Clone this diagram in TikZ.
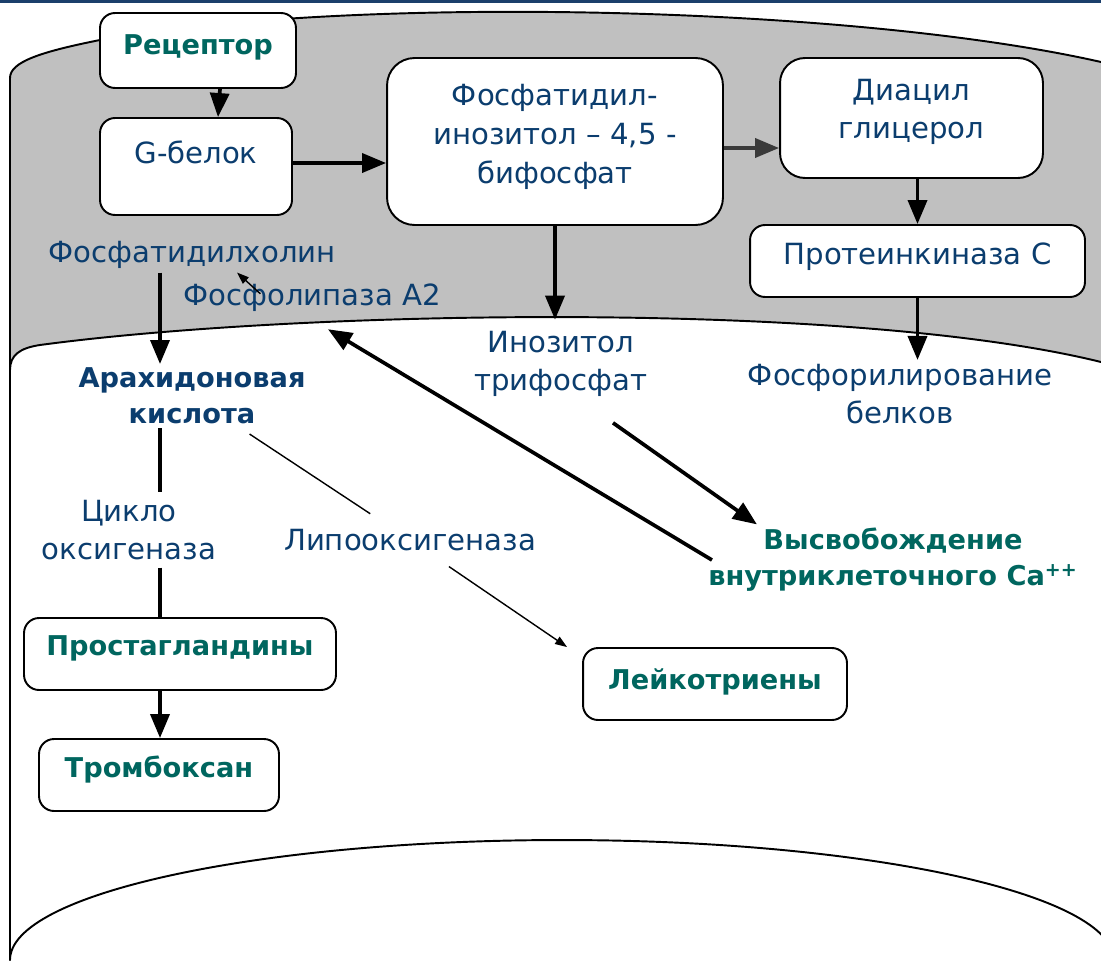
\documentclass[tikz,border=0pt]{standalone}
\usepackage{fontspec}
\setmainfont{DejaVu Sans}
\usepackage{xcolor}
\usetikzlibrary{arrows.meta,positioning}
\definecolor{Navy}{HTML}{0B3D6E}
\definecolor{Teal}{HTML}{00665F}
\definecolor{Plasma}{HTML}{C0C0C0}
\definecolor{TopBar}{HTML}{1B3F6B}
\definecolor{Pointer}{HTML}{3A3A3A}

\begin{document}
\begin{tikzpicture}[x=0.02cm,y=-0.02cm,>=Latex]
  \tikzset{
    cellbox/.style={
      draw,
      line width=1.1pt,
      fill=white,
      rounded corners=0.3cm,
      inner sep=0pt
    },
    membrane/.style={line width=1.1pt, line cap=round},
    flow/.style={-{Triangle[length=0.48cm,width=0.38cm]}, line width=2.1pt},
    flowgray/.style={flow, Pointer},
    flowthin/.style={-{Triangle[length=0.24cm,width=0.17cm]}, line width=0.8pt},
    link/.style={line width=0.8pt},
    term/.style={font=\fontsize{16.6}{22}\selectfont, text=Navy, align=center, inner sep=2pt},
    product/.style={font=\bfseries\fontsize{15.5}{20.5}\selectfont, text=Teal, align=center, inner sep=2pt},
    keyacid/.style={product, text=Navy}
  }
  \useasboundingbox (0,0) rectangle (1101,960);

  % cell: plasma band and membranes
  \fill[TopBar] (0,0) rectangle (1101,3);
  \fill[Plasma] (10,78) .. controls (10,62) and (40,52) .. (100,40)
    .. controls (350,-5) and (850,5) .. (1101,62) -- (1101,362)
    .. controls (850,300) and (300,310) .. (40,345)
    .. controls (20,348) and (10,355) .. (10,370) -- cycle;
  \draw[membrane] (10,960) -- (10,78) .. controls (10,62) and (40,52) .. (100,40)
    .. controls (350,-5) and (850,5) .. (1101,62);
  \draw[membrane] (10,370) .. controls (10,355) and (20,348) .. (40,345)
    .. controls (300,310) and (850,300) .. (1101,362);
  \draw[membrane] (10,960) arc[start angle=180, end angle=0, x radius=11.04cm, y radius=2.4cm];

  % boxes
  \node[cellbox, minimum width=3.92cm, minimum height=1.5cm]  (rec)   at (198,50.5) {};
  \node[cellbox, minimum width=3.84cm, minimum height=1.94cm] (gprot) at (196,166.5) {};
  \node[cellbox, rounded corners=0.55cm, minimum width=6.72cm, minimum height=3.34cm] (pip) at (555,141.5) {};
  \node[cellbox, rounded corners=0.5cm, minimum width=5.26cm, minimum height=2.4cm] (dag) at (911.5,118) {};
  \node[cellbox, minimum width=6.7cm, minimum height=1.44cm]  (pkc)   at (917.5,261) {};
  \node[cellbox, minimum width=6.24cm, minimum height=1.44cm] (pg)    at (180,654) {};
  \node[cellbox, minimum width=4.8cm, minimum height=1.44cm]  (tx)    at (159,775) {};
  \node[cellbox, minimum width=5.28cm, minimum height=1.44cm] (lt)    at (715,684) {};

  \node[product] at (rec.center) [yshift=0.07cm] {Рецептор};
  \node[term] at (gprot.center) [yshift=0.29cm] {G-белок};
  \node[term] at (pip.center) [yshift=0.09cm] {Фосфатидил-\\инозитол – 4,5 -\\бифосфат};
  \node[term] at (dag.center) [yshift=0.12cm] {Диацил\\глицерол};
  \node[term] at (pkc.center) [yshift=0.08cm] {Протеинкиназа С};
  \node[product] at (pg.center) [yshift=0.12cm] {Простагландины};
  \node[product] at (tx.center) [yshift=0.1cm] {Тромбоксан};
  \node[product] at (lt.center) [yshift=0.04cm] {Лейкотриены};

  % free labels
  \node[term] (pc)   at (192,255) {Фосфатидилхолин};
  \node[term] (pla2) at (312,298) {Фосфолипаза А2};
  \node[keyacid] (aa) at (192,396) {Арахидоновая\\кислота};
  \node[term, inner sep=4pt] (cox) at (129,530) {Цикло\\оксигеназа};
  \node[term] (lox)  at (410,540) {Липооксигеназа};
  \node[term] (ip3)  at (561,364) {Инозитол\\трифосфат};
  \node[term] (pp)   at (900,394) {Фосфорилирование\\белков};
  \node[product] (ca) at (893,560) {Высвобождение\\внутриклеточного Ca\textsuperscript{++}};
  \coordinate (stem) at (160,0);

  % connectors
  \draw[flow] ([xshift=0.44cm]rec.south) -- ([xshift=0.44cm]gprot.north);
  \draw[flow] ([yshift=0.07cm]gprot.east) -- ([yshift=0.07cm]gprot.east -| pip.west);
  \draw[flowgray] ([yshift=-0.13cm]pip.east) -- ([yshift=-0.13cm]pip.east -| dag.west);
  \draw[flow] (dag.south -| pkc.north) -- (pkc.north);
  \draw[flow] (pkc.south) -- (pkc.south |- pp.north);
  \draw[flow] (pip.south) -- ([yshift=0.15cm]pip.south |- ip3.north);
  \draw[flowthin] ([xshift=1.62cm,yshift=-0.27cm]pla2.north west) -- ([xshift=0.9cm]pc.south);
  \draw[flow] (pc.south -| stem) -- (aa.north -| stem);
  \draw[link, line width=2.1pt] (aa.south -| stem) -- (cox.north -| stem);
  \draw[link, line width=2.1pt] (cox.south -| stem) -- (pg.north -| stem);
  \draw[flow] (pg.south -| stem) -- (tx.north -| stem);
  \draw[link, shorten <=0.22cm, shorten >=0.42cm] (aa) -- (lox);
  \draw[flowthin, shorten <=0.42cm] (lox) -- ([xshift=-0.3cm]lt.north west);
  \draw[flow] ([xshift=1.04cm,yshift=-0.44cm]ip3.south) -- ([xshift=1.05cm]ca.north west);
  \draw[flow] ([xshift=0.15cm]ca.west) -- ([shift={(0.32cm,-0.27cm)}]pla2.south);
\end{tikzpicture}
\end{document}
